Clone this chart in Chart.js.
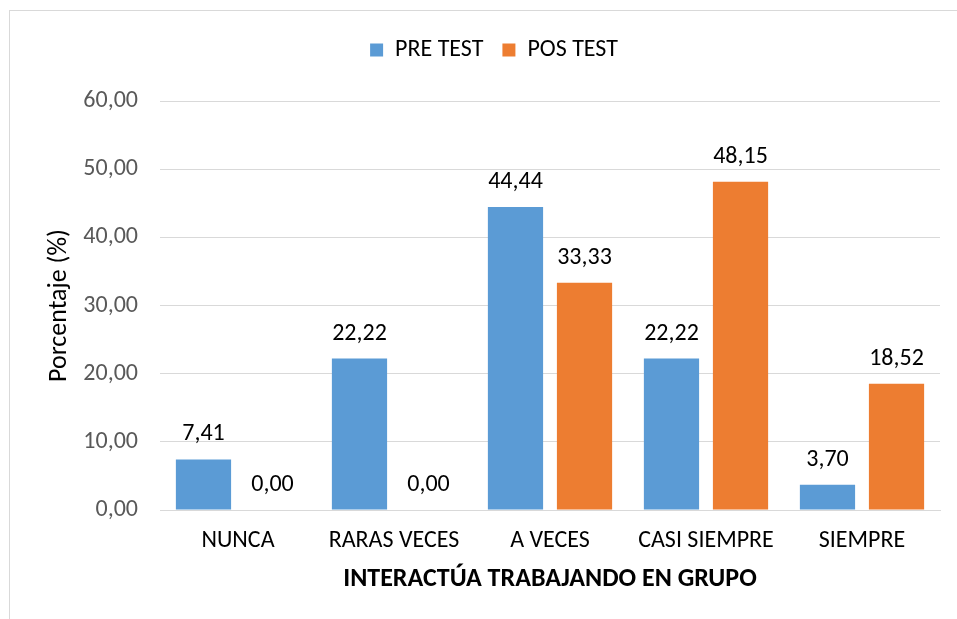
<!DOCTYPE html>
<html>
<head>
<meta charset="utf-8">
<script src="https://cdn.jsdelivr.net/npm/chart.js@4/dist/chart.umd.min.js"></script>
<style>
html,body{margin:0;padding:0;background:#fff;}
#wrap{position:absolute;left:0;top:0;width:957px;height:619px;}
</style>
</head>
<body>
<div id="wrap"><canvas id="c" width="957" height="619"></canvas></div>
<script>
const categories = ['NUNCA', 'RARAS VECES', 'A VECES', 'CASI SIEMPRE', 'SIEMPRE'];
const preTest = [7.41, 22.22, 44.44, 22.22, 3.70];
const posTest = [0.00, 0.00, 33.33, 48.15, 18.52];
const seriesNames = ['PRE TEST', 'POS TEST'];
const yTicks = [0, 10, 20, 30, 40, 50, 60];
const yTitle = 'Porcentaje (%)';
const xTitle = 'INTERACTÚA TRABAJANDO EN GRUPO';

const FONT = 'Carlito, Calibri, "Liberation Sans Narrow", "Liberation Sans", sans-serif';
const fmt = v => v.toFixed(2).replace('.', ',');

const frame = {
  id: 'frame',
  beforeInit(chart) {
    const lg = chart.legend;
    if (lg) {
      const orig = lg.fit;
      lg.fit = function () { orig.call(this); this.height = 82; };
    }
  },
  afterLayout(chart) {
    const lg = chart.legend;
    if (lg) { lg.left += 24; lg.right += 24; }
  },
  beforeDraw(chart) {
    const ctx = chart.ctx;
    ctx.save();
    ctx.fillStyle = '#fff';
    ctx.fillRect(0, 0, chart.width, chart.height);
    ctx.strokeStyle = '#d9d9d9';
    ctx.lineWidth = 1;
    ctx.strokeRect(9.5, 10.5, 1000, 700);
    ctx.restore();
  }
};

const valueLabels = {
  id: 'valueLabels',
  afterDatasetsDraw(chart) {
    const ctx = chart.ctx;
    ctx.save();
    ctx.font = '24px ' + FONT;
    ctx.fillStyle = '#000';
    ctx.textAlign = 'center';
    ctx.textBaseline = 'middle';
    chart.data.datasets.forEach((ds, i) => {
      const meta = chart.getDatasetMeta(i);
      meta.data.forEach((bar, j) => {
        ctx.fillText(fmt(ds.data[j]), bar.x, bar.y - 25);
      });
    });
    ctx.restore();
  }
};

new Chart(document.getElementById('c'), {
  type: 'bar',
  data: {
    labels: categories,
    datasets: [
      { label: seriesNames[0], data: preTest, backgroundColor: '#5B9BD5' },
      { label: seriesNames[1], data: posTest, backgroundColor: '#ED7D31' }
    ]
  },
  options: {
    responsive: false,
    animation: false,
    devicePixelRatio: 1,
    categoryPercentage: 0.885,
    barPercentage: 0.8,
    layout: { padding: { left: 0, right: 17, top: 19, bottom: 24 } },
    plugins: {
      legend: {
        position: 'top',
        labels: {
          font: { family: FONT, size: 24 },
          color: '#000',
          boxWidth: 13,
          boxHeight: 13,
          padding: 19
        }
      },
      tooltip: { enabled: false }
    },
    scales: {
      x: {
        grid: { display: false, drawTicks: false },
        border: { display: true, color: '#d9d9d9', width: 1 },
        ticks: { font: { family: FONT, size: 24 }, color: '#000', padding: 17 },
        title: {
          display: true, text: xTitle, color: '#000',
          font: { family: FONT, size: 26, weight: 'bold' },
          padding: { top: -9, bottom: 0 }
        }
      },
      y: {
        min: 0, max: 60,
        afterFit(s) { s.width = 160; },
        afterBuildTicks(s) { s.ticks = yTicks.map(v => ({ value: v })); },
        grid: { color: '#d9d9d9', drawTicks: false },
        border: { display: false },
        ticks: { font: { family: FONT, size: 24 }, color: '#595959', padding: 22, callback: v => fmt(v) },
        title: {
          display: true, text: yTitle, color: '#000',
          font: { family: FONT, size: 26 },
          padding: { top: 44, bottom: 0 }
        }
      }
    }
  },
  plugins: [frame, valueLabels]
});
</script>
</body>
</html>
